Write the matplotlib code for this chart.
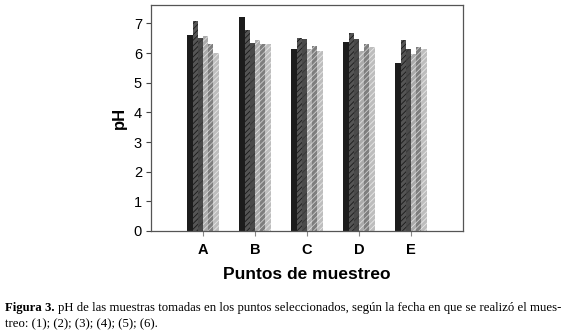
import numpy as np
import matplotlib
matplotlib.use('Agg')
from matplotlib import pyplot as plt

plt.rcParams['font.family'] = ['Liberation Sans', 'DejaVu Sans']
plt.rcParams['hatch.linewidth'] = 0.6

puntos = ['A', 'B', 'C', 'D', 'E']
s1 = [6.60, 7.23, 6.13, 6.36, 5.66]
s2 = [7.07, 6.77, 6.50, 6.66, 6.45]
s3 = [6.52, 6.34, 6.46, 6.46, 6.14]
s4 = [6.57, 6.45, 6.15, 6.06, 5.96]
s5 = [6.30, 6.30, 6.24, 6.30, 6.19]
s6 = [5.99, 6.32, 6.06, 6.20, 6.13]
series = [s1, s2, s3, s4, s5, s6]

colores = ['#1c1c1c', '#555555', '#4a4a4a', '#aaaaaa', '#7e7e7e', '#bdbdbd']
hatches = [None, '//////', '////', '//////', '//////', '//////']
hcols = ['#1c1c1c', '#1a1a1a', '#363636', '#e0e0e0', '#cfcfcf', '#e8e8e8']

fig = plt.figure(figsize=(5.69, 3.34), dpi=100)
ax = fig.add_axes([151/569, 1-231/334, 312/569, 226/334])

x = np.arange(1, len(puntos)+1)
w = 0.1
for i, (s, c, h, hc) in enumerate(zip(series, colores, hatches, hcols)):
    ax.bar(x + (i-2.5)*w, s, w, color=c, hatch=h, edgecolor=hc, linewidth=0)

ax.set_xlim(0, 6)
ax.set_ylim(0, 7.62)
ax.set_xticks(x)
ax.set_xticklabels(puntos, fontsize=10.5, fontweight='bold')
ax.set_yticks(range(8))
ax.tick_params(axis='y', labelsize=10.5, length=3.5, width=0.8, color='#444', pad=3)
ax.tick_params(axis='x', length=3.5, width=0.8, color='#888', pad=5)
for sp in ax.spines.values():
    sp.set_color('#555')
    sp.set_linewidth(0.9)
ax.set_ylabel('pH', fontsize=12, fontweight='bold', labelpad=5)
ax.set_xlabel('Puntos de muestreo', fontsize=12.5, fontweight='bold', labelpad=7)

# pie de figura
cap = 'Liberation Serif'
fs = 9.2
t1 = fig.text(5/569, 1-311/334, 'Figura 3.', fontsize=fs, fontweight='bold', family=cap)
fig.canvas.draw()
bb = t1.get_window_extent()
fig.text((bb.x1 + 3)/569, 1-311/334,
         'pH de las muestras tomadas en los puntos seleccionados, según la fecha en que se realizó el mues-',
         fontsize=fs, family=cap)
fig.text(5/569, 1-327/334, 'treo: (1); (2); (3); (4); (5); (6).', fontsize=fs, family=cap)

fig.savefig('out.png', dpi=100)
